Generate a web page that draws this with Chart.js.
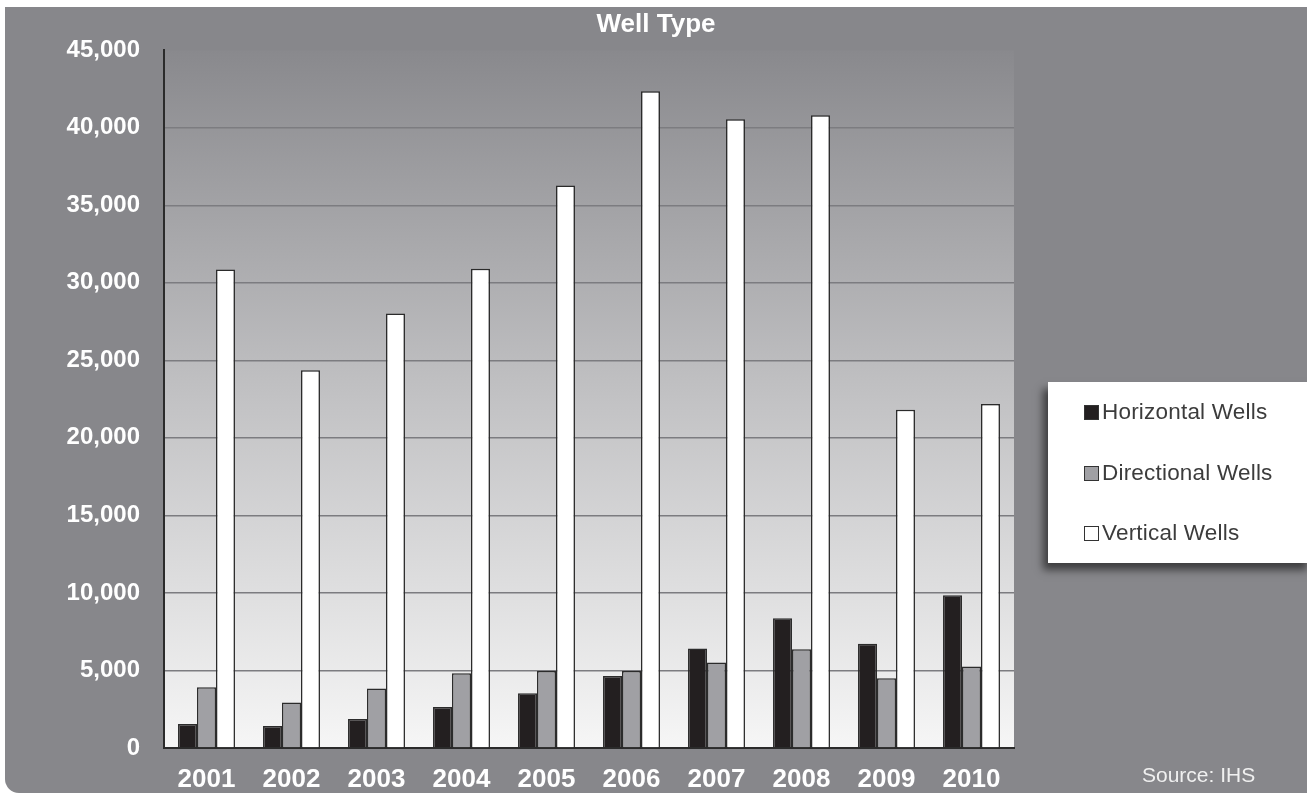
<!DOCTYPE html>
<html lang="en">
<head>
    <meta charset="UTF-8">
    <title>Well Type</title>
    <script src="https://cdn.jsdelivr.net/npm/chart.js@4"></script>
    <style>
        body {
            margin: 0;
            background: #ffffff;
            font-family: 'Liberation Sans', Arial, sans-serif;
        }
        .frame {
            position: absolute;
            left: 5px;
            top: 7px;
            width: 1302px;
            height: 786px;
            background: #87878b;
            border-bottom-left-radius: 14px;
            overflow: hidden;
        }
        .legend {
            position: absolute;
            left: 1043px;
            top: 375px;
            width: 264px;
            height: 181px;
            background: #ffffff;
            box-shadow: -5px 7px 8px rgba(0,0,0,0.55);
        }
        .legend-item {
            position: absolute;
            left: 36px;
            height: 26px;
            line-height: 26px;
            font-size: 22.5px;
            letter-spacing: 0.2px;
            color: #3c3c3c;
            white-space: nowrap;
        }
        .legend-item span.box {
            display: inline-block;
            width: 13px;
            height: 13px;
            border: 1px solid #333;
            margin-right: 3px;
            vertical-align: -1px;
        }
        .source {
            position: absolute;
            left: 1137px;
            top: 757px;
            font-size: 21px;
            line-height: 21px;
            color: #f0f0f0;
        }
    </style>
</head>
<body>
    <div class="frame">
        <canvas id="wellChart"></canvas>
        <div class="legend" id="legend"></div>
        <div class="source">Source: IHS</div>
    </div>

    <script>
        // data
        const years = ['2001', '2002', '2003', '2004', '2005', '2006', '2007', '2008', '2009', '2010'];
        const horizontalWells = [1550, 1420, 1870, 2650, 3530, 4650, 6410, 8370, 6730, 9850];
        const directionalWells = [3920, 2930, 3830, 4820, 4970, 4970, 5510, 6370, 4500, 5250];
        const verticalWells = [30860, 24360, 28020, 30900, 36280, 42350, 40540, 40800, 21820, 22190];
        const seriesNames = ['Horizontal Wells', 'Directional Wells', 'Vertical Wells'];
        const yMax = 45000;
        const yStep = 5000;

        const fontFamily = "'Liberation Sans', Arial, sans-serif";
        const barColors = ['#231f20', '#a0a0a4', '#ffffff'];

        // gradient behind the bars
        const plotBg = {
            id: 'plotBg',
            beforeDraw(chart) {
                const ctx = chart.ctx;
                const a = chart.chartArea;
                const g = ctx.createLinearGradient(0, a.top, 0, a.bottom);
                g.addColorStop(0, '#89898d');
                g.addColorStop(0.5, '#c2c2c4');
                g.addColorStop(1, '#f6f6f6');
                ctx.save();
                ctx.fillStyle = g;
                ctx.fillRect(a.left, a.top, a.right - a.left, a.bottom - a.top);
                ctx.restore();
            }
        };

        // title is centred on the whole picture, not on the plot
        const wideTitle = {
            id: 'wideTitle',
            afterLayout(chart) {
                if (chart.titleBlock) {
                    chart.titleBlock.left = 0;
                    chart.titleBlock.right = chart.width;
                }
            }
        };

        const ctx = document.getElementById('wellChart').getContext('2d');
        const chart = new Chart(ctx, {
            type: 'bar',
            data: {
                labels: years,
                datasets: [
                    { label: seriesNames[0], data: horizontalWells, backgroundColor: barColors[0] },
                    { label: seriesNames[1], data: directionalWells, backgroundColor: barColors[1] },
                    { label: seriesNames[2], data: verticalWells, backgroundColor: barColors[2] }
                ]
            },
            options: {
                responsive: true,
                maintainAspectRatio: false,
                animation: false,
                layout: {
                    padding: { left: 0, right: 293, top: 0, bottom: 0 }
                },
                datasets: {
                    bar: {
                        categoryPercentage: 0.67,
                        barPercentage: 1.0,
                        borderColor: '#2b2b2b',
                        borderWidth: 1.5
                    }
                },
                plugins: {
                    legend: { display: false },
                    tooltip: { enabled: false },
                    title: {
                        display: true,
                        text: 'Well Type',
                        color: '#ffffff',
                        font: { family: fontFamily, size: 26, weight: 'bold' },
                        padding: { top: 2, bottom: 10 }
                    }
                },
                scales: {
                    x: {
                        grid: { display: false, drawTicks: false },
                        border: { display: true, color: '#2b2b2b', width: 2 },
                        ticks: {
                            color: '#ffffff',
                            padding: 16,
                            font: { family: fontFamily, size: 26, weight: 'bold' }
                        },
                        afterFit(scale) { scale.height = 45; }
                    },
                    y: {
                        min: 0,
                        max: yMax,
                        grid: {
                            drawTicks: false,
                            lineWidth: 1.5,
                            color(c) {
                                if (c.tick && (c.tick.value === 0 || c.tick.value === yMax)) return 'rgba(0,0,0,0)';
                                return '#7c7c80';
                            }
                        },
                        border: { display: true, color: '#2b2b2b', width: 2 },
                        ticks: {
                            stepSize: yStep,
                            color: '#ffffff',
                            padding: 24,
                            font: { family: fontFamily, size: 24, weight: 'bold' },
                            callback: function(value) {
                                return value.toLocaleString('en-US');
                            }
                        },
                        afterFit(scale) { scale.width = 159; }
                    }
                }
            },
            plugins: [plotBg, wideTitle]
        });

        // legend built from the series
        const legendEl = document.getElementById('legend');
        const itemTops = [17, 78, 138];
        seriesNames.forEach(function(name, i) {
            const item = document.createElement('div');
            item.className = 'legend-item';
            item.style.top = itemTops[i] + 'px';
            const box = document.createElement('span');
            box.className = 'box';
            box.style.background = barColors[i];
            item.appendChild(box);
            item.appendChild(document.createTextNode(name));
            legendEl.appendChild(item);
        });
    </script>
</body>
</html>
